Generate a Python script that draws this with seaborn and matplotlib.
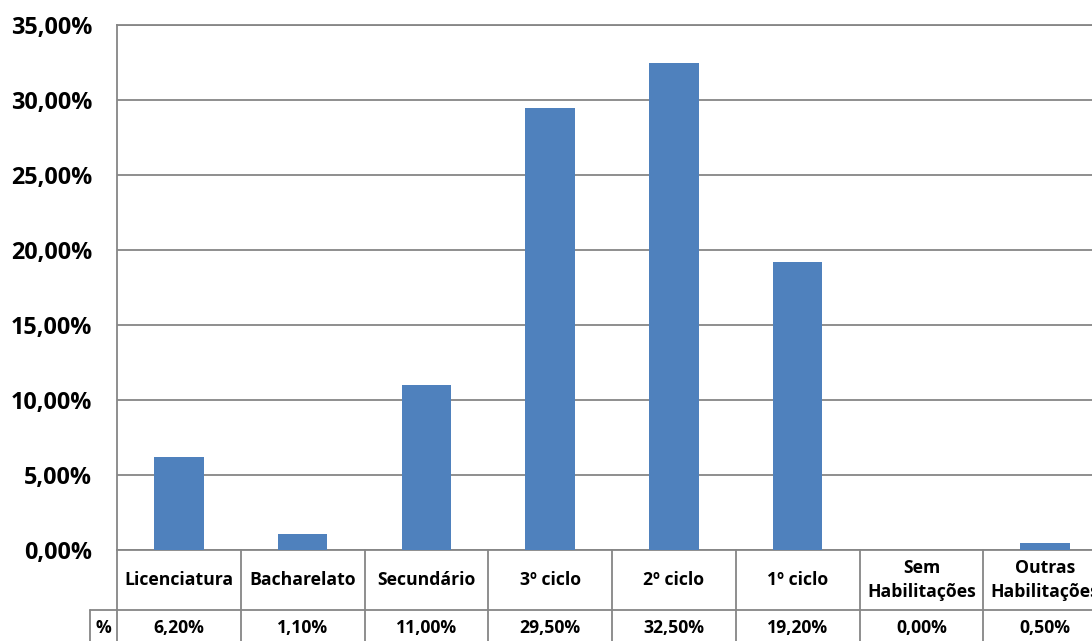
import matplotlib
matplotlib.use("Agg")
import matplotlib.pyplot as plt
from matplotlib.ticker import FuncFormatter, MultipleLocator
import seaborn as sns
import pandas as pd

categories = ["Licenciatura", "Bacharelato", "Secundário", "3º ciclo", "2º ciclo",
              "1º ciclo", "Sem\nHabilitações", "Outras\nHabilitações"]
values = [6.20, 1.10, 11.00, 29.50, 32.50, 19.20, 0.00, 0.50]
row_label = "%"

BAR = "#4F81BD"
GRID = "#868686"
FONT = ["Open Sans", "DejaVu Sans"]

sns.set_theme(style="white")
plt.rcParams["font.family"] = FONT
plt.rcParams["font.weight"] = "bold"

W, H = 1092, 641
fig = plt.figure(figsize=(W / 100, H / 100), dpi=100)
fig.patch.set_facecolor("white")

# plot-area box in pixels
left_px, right_px, top_px, bot_px = 117, 1107, 25, 550
ax = fig.add_axes([left_px / W, (H - bot_px) / H,
                   (right_px - left_px) / W, (bot_px - top_px) / H])

df = pd.DataFrame({"cat": categories, "val": values})
sns.barplot(data=df, x="cat", y="val", color=BAR, width=0.4, saturation=1,
            linewidth=0, ax=ax, zorder=3)

ax.set_xlim(-0.5, len(categories) - 0.5)
ax.set_ylim(0, 35)
ax.yaxis.set_major_locator(MultipleLocator(5))
ax.yaxis.set_major_formatter(
    FuncFormatter(lambda v, _: f"{v:.2f}%".replace(".", ",")))
ax.grid(axis="y", color=GRID, linewidth=1.3, zorder=0)
ax.set_xlabel("")
ax.set_ylabel("")
ax.set_xticks([])
for s in ax.spines.values():
    s.set_color(GRID)
    s.set_linewidth(1.3)
ax.tick_params(axis="y", length=0, pad=18, labelsize=16.8, labelcolor="black")
for t in ax.get_yticklabels():
    t.set_fontweight("bold")

# data table beneath the axis
h_px = bot_px - top_px
w_px = right_px - left_px


def ay(py):
    return (bot_px - py) / h_px


def ax_x(px):
    return (px - left_px) / w_px


row1_bot = 610
row2_bot = 660
pct_left = 90
lk = dict(color=GRID, linewidth=1.3, clip_on=False, transform=ax.transAxes)

# horizontal lines
ax.plot([0, 1], [ay(row1_bot)] * 2, **lk)
ax.plot([ax_x(pct_left), 0], [ay(row1_bot)] * 2, **lk)
ax.plot([ax_x(pct_left), 1], [ay(row2_bot)] * 2, **lk)
# vertical lines
n = len(categories)
for i in range(n + 1):
    ax.plot([i / n] * 2, [0, ay(row2_bot)], **lk)
ax.plot([ax_x(pct_left)] * 2, [ay(row1_bot), ay(row2_bot)], **lk)

tr = ax.get_xaxis_transform()
for i, (c, v) in enumerate(zip(categories, values)):
    ax.text(i, ay(580), c, transform=tr, ha="center", va="center",
            fontsize=12.7, fontweight="bold", linespacing=1.45, color="black")
    ax.text(i, ay(628), f"{v:.2f}%".replace(".", ","), transform=tr,
            ha="center", va="center", fontsize=12.7, fontweight="bold",
            color="black")
ax.text(ax_x((pct_left + left_px) / 2), ay(628), row_label,
        transform=ax.transAxes, ha="center", va="center", fontsize=12.7,
        fontweight="bold", color="black")

fig.savefig("out.png", dpi=100, facecolor="white")
